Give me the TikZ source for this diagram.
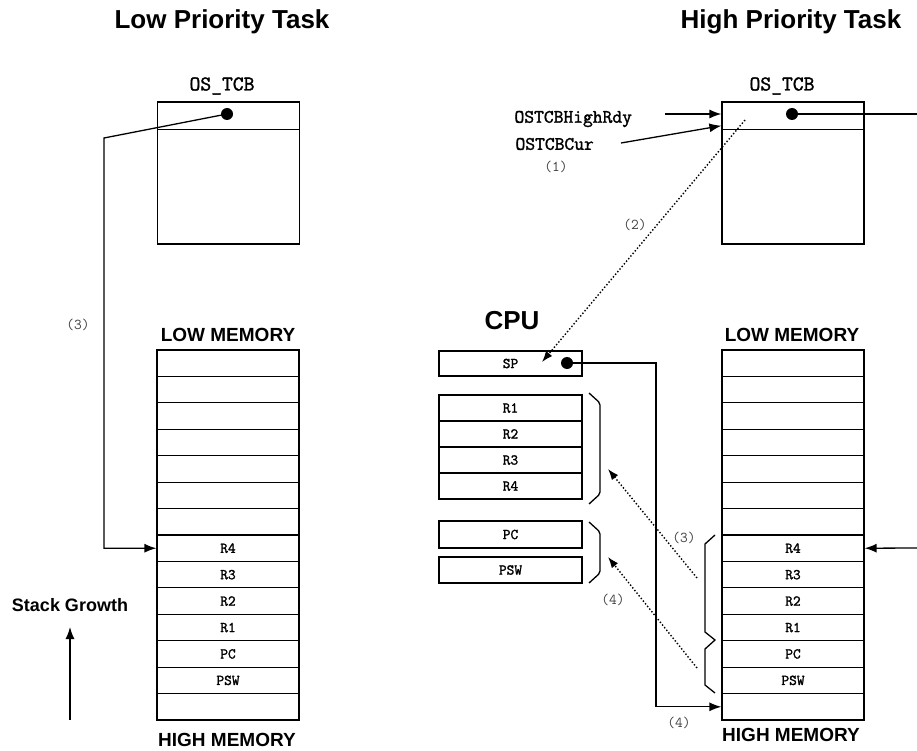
\documentclass[tikz,border=0pt]{standalone}
\usepackage{fontspec}
\setmainfont{Liberation Sans}
\newfontfamily\regfont[FakeBold=1.6]{Latin Modern Mono}
\usetikzlibrary{arrows.meta}

\begin{document}
\begin{tikzpicture}[x=1pt,y=-1pt,
    cell/.style={draw,line width=1.2pt,minimum width=142pt,minimum height=26.43pt,
      inner sep=0pt,font=\regfont\fontsize{15}{15}\selectfont},
    tasktitle/.style={font=\bfseries\fontsize{26}{26}\selectfont},
    memtitle/.style={font=\bfseries\fontsize{19}{19}\selectfont},
    ptrname/.style={font=\regfont\fontsize{19}{19}\selectfont},
    stepnum/.style={font=\ttfamily\fontsize{15}{15}\selectfont,text=black!75},
    link/.style={line width=1.3pt},
    dotlink/.style={line width=1.4pt,dotted,-{Latex[length=11pt,width=8pt]}},
    arr/.style={-{Latex[length=12pt,width=9pt]}}]
  \useasboundingbox (0,0) rectangle (917,751);

  % titles
  \node[tasktitle] (lotitle) at (222,22) {Low Priority Task};
  \node[tasktitle] (hititle) at (791,22) {High Priority Task};

  % OS_TCB of both tasks
  \node[font=\regfont\fontsize{21}{21}\selectfont] (lotcblab) at (222,86) {OS\_TCB};
  \node[cell,minimum height=27.5pt] (lotcbtop) at (228.5,115.75) {};
  \node[cell,minimum height=114.5pt] (lotcbbody) at (228.5,186.75) {};
  \node[font=\regfont\fontsize{21}{21}\selectfont] (hitcblab) at (782,86) {OS\_TCB};
  \node[cell,minimum height=27.5pt] (hitcbtop) at (793,115.75) {};
  \node[cell,minimum height=114.5pt] (hitcbbody) at (793,186.75) {};

  % stacks
  \node[memtitle] (lolow) at (228,335) {LOW MEMORY};
  \node[memtitle] (hilow) at (792,335) {LOW MEMORY};
  \foreach \i/\lab in {1/{},2/{},3/{},4/{},5/{},6/{},7/{},8/R4,9/R3,10/R2,11/R1,12/PC,13/PSW,14/{}} {
    \node[cell] (lo\i) at (228,{350+(\i-0.5)*26.43}) {\lab};
    \node[cell] (hi\i) at (793,{350+(\i-0.5)*26.43}) {\lab};
  }
  \node[memtitle] (lohigh) at (227,740) {HIGH MEMORY};
  \node[memtitle] (hihigh) at (791,735) {HIGH MEMORY};

  % CPU registers
  \node[font=\bfseries\fontsize{26}{26}\selectfont] (cpu) at (512,321) {CPU};
  \node[cell,minimum width=143pt,minimum height=25pt] (sp) at (510.5,363.5) {SP};
  \foreach \r [count=\i] in {R1,R2,R3,R4}
    \node[cell,minimum width=143pt,minimum height=26pt] (r\i) at (510.5,{382+\i*26}) {\r};
  \node[cell,minimum width=143pt,minimum height=27pt] (pc) at (510.5,534.5) {PC};
  \node[cell,minimum width=143pt,minimum height=26pt] (psw) at (510.5,570) {PSW};

  % brackets
  \draw[link,rounded corners=2pt] (589,393) -- (600,403) -- (600,494) -- (589,504);
  \draw[link,rounded corners=2pt] (589,522) -- (600,532) -- (600,573) -- (589,583);
  \draw[link] (715,535) -- (705,544) -- (705,632) -- (715,640) -- (705,649)
    -- (705,685) -- (715,693);

  % pointers
  \coordinate (lodot) at (227,114);
  \coordinate (lobend) at (104,138);
  \coordinate (hidot) at (792,114);
  \coordinate (hiout) at (917,114);
  \coordinate (hiin) at (917,548);
  \coordinate (spdot) at (567,363);
  \coordinate (spcol) at (656,363);
  \foreach \d in {lodot,hidot,spdot}
    \fill (\d) circle (6pt);
  \draw[link,arr] (lodot) -- (lobend) |- (lo8.west);
  \draw[link] (hidot) -- (hiout);
  \draw[link,arr] (hiin) -- (hi8.east);
  \draw[link,arr] (spdot) -- (spcol) |- (hi14.west);

  \node[ptrname,anchor=west] (highrdy) at (511,119) {OSTCBHighRdy};
  \node[ptrname,anchor=west] (tcbcur) at (512,144) {OSTCBCur};
  \coordinate (rdytail) at (665,114);
  \coordinate (curtail) at (621,143);
  \draw[link,arr] (rdytail) -- ([yshift=1.75pt]hitcbtop.west);
  \draw[link,arr] (curtail) -- ([yshift=-10pt]hitcbtop.west);

  % dotted moves
  \coordinate (tcbsp) at (745,120);
  \coordinate (sptip) at (542,362);
  \coordinate (regsrc) at (697,578);
  \coordinate (regtip) at (608,469);
  \coordinate (pcsrc) at (697,668);
  \coordinate (pctip) at (608,557);
  \draw[dotlink] (tcbsp) -- (sptip);
  \draw[dotlink] (regsrc) -- (regtip);
  \draw[dotlink] (pcsrc) -- (pctip);

  % step numbers
  \node[stepnum] (s1) at (556,167) {(1)};
  \node[stepnum] (s2) at (635,225) {(2)};
  \node[stepnum] (s3lo) at (78,325) {(3)};
  \node[stepnum] (s3hi) at (684,538) {(3)};
  \node[stepnum] (s4reg) at (613,600) {(4)};
  \node[stepnum] (s4sp) at (679,723) {(4)};

  % stack growth
  \node[font=\bfseries\fontsize{18}{18}\selectfont] (growth) at (70,605) {Stack Growth};
  \coordinate (gbot) at (70,720);
  \coordinate (gtop) at (70,627);
  \draw[link,arr] (gbot) -- (gtop);
\end{tikzpicture}
\end{document}
